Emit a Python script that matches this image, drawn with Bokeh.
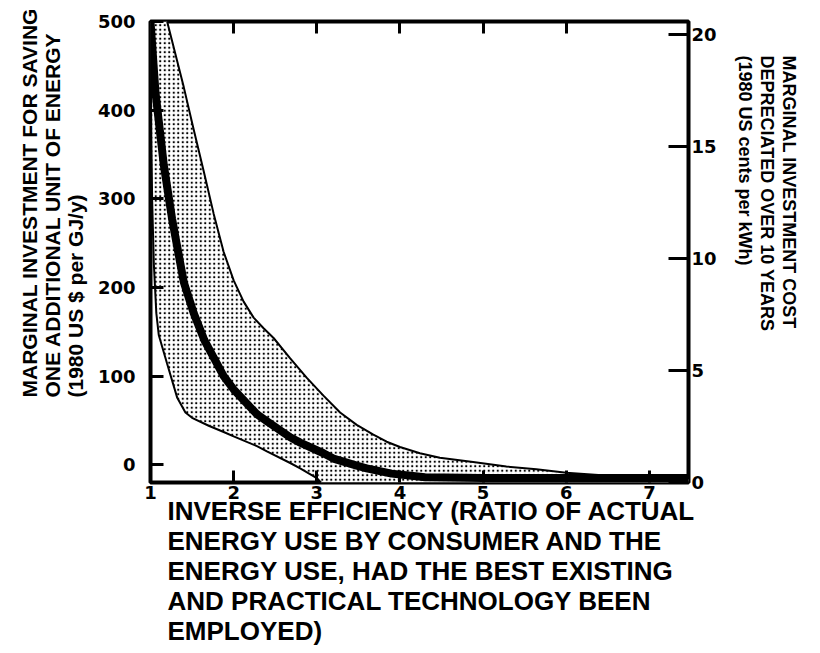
from bokeh.plotting import figure
from bokeh.models import Range1d, LinearAxis, FixedTicker, Title
from bokeh.embed import file_html
from bokeh.resources import INLINE

# ---------------- data ----------------
x_ticks = [1, 2, 3, 4, 5, 6, 7]
top_ticks = [2, 3, 4, 5, 6]
y_ticks_left = [0, 100, 200, 300, 400, 500]
y_ticks_right = [0, 5, 10, 15, 20]

# upper bound of the band
upper_x = [1.20, 1.30, 1.40, 1.52, 1.64, 1.76, 1.88, 2.00, 2.12, 2.24, 2.36, 2.48, 2.68, 2.88,
           3.08, 3.28, 3.48, 3.68, 3.84, 4.00, 4.24, 4.48, 4.88, 5.28, 5.64, 6.00, 6.60, 7.47]
upper_y = [500, 463, 426, 378, 331, 283, 240, 208, 184, 166, 154, 143, 120, 98,
           78, 59, 45, 34, 26, 20, 13, 8, 3, -2, -5, -9, -13, -16]

# central (thick) curve
mid_x = [1.00, 1.06, 1.16, 1.26, 1.40, 1.52, 1.65, 1.88, 2.00, 2.28, 2.40, 2.68, 2.80,
         3.08, 3.20, 3.48, 3.60, 3.90, 4.30, 5.00, 6.00, 7.47]
mid_y = [500, 420, 338, 277, 206, 171, 140, 100, 85, 57, 49, 31, 25,
         13, 7, -1, -4, -10, -14, -15, -15, -15]

# lower bound of the band
lower_x = [1.00, 1.01, 1.02, 1.04, 1.07, 1.10, 1.20, 1.32, 1.42, 1.50, 1.70, 1.88, 2.00,
           2.28, 2.40, 2.68, 2.80, 3.00, 3.05]
lower_y = [500, 369, 298, 227, 171, 146, 114, 76, 59, 53, 44, 37, 32,
           21, 15, 2, -4, -15, -20]

left_title = "MARGINAL INVESTMENT FOR SAVING\nONE ADDITIONAL UNIT OF ENERGY\n(1980 US $ per GJ/y)"
right_title = "MARGINAL INVESTMENT COST\nDEPRECIATED OVER 10 YEARS\n(1980 US cents per kWh)"
bottom_title = ("INVERSE EFFICIENCY (RATIO OF ACTUAL\nENERGY USE BY CONSUMER AND THE\n"
                "ENERGY USE, HAD THE BEST EXISTING\nAND PRACTICAL TECHNOLOGY BEEN\nEMPLOYED)")

# ---------------- figure ----------------
p = figure(width=816, height=649, output_backend="svg", toolbar_location=None,
           x_range=Range1d(1.0, 7.47), y_range=Range1d(-20, 500),
           min_border_left=150, min_border_right=128, min_border_top=21, min_border_bottom=167,
           background_fill_color="white", border_fill_color="white")
p.extra_y_ranges = {"cents": Range1d(0, 20.6)}
p.grid.visible = False
p.outline_line_color = "black"
p.outline_line_width = 4

tick_font = "DejaVu Sans"
title_font = "Liberation Sans"

def style_axis(ax, tick_in, standoff):
    ax.axis_line_color = None
    ax.major_tick_in = tick_in
    ax.major_tick_out = 0
    ax.major_tick_line_width = 3
    ax.major_tick_line_color = "black"
    ax.minor_tick_line_color = None
    ax.major_label_standoff = standoff
    ax.major_label_text_font = tick_font
    ax.major_label_text_font_style = "bold"
    ax.major_label_text_color = "black"
    ax.major_label_text_font_size = "18px"

xa = p.xaxis[0]
xa.ticker = FixedTicker(ticks=x_ticks)
style_axis(xa, 12, 3)

ya = p.yaxis[0]
ya.ticker = FixedTicker(ticks=y_ticks_left)
style_axis(ya, 13, 15)

top = LinearAxis(ticker=FixedTicker(ticks=top_ticks))
style_axis(top, 12, 0)
top.major_label_overrides = {t: "" for t in top_ticks}
p.add_layout(top, "above")

right = LinearAxis(y_range_name="cents", ticker=FixedTicker(ticks=y_ticks_right))
style_axis(right, 20, 3)
p.add_layout(right, "right")

def make_title(text, size, lh, align, offset, standoff, valign="bottom"):
    return Title(text=text, align=align, offset=offset, standoff=standoff,
                 vertical_align=valign,
                 text_font=title_font, text_font_style="bold", text_font_size=size,
                 text_line_height=lh, text_color="black")

p.add_layout(make_title(left_title, "21px", 1.0, "left", 85, 16), "left")
p.add_layout(make_title(right_title, "18px", 1.11, "left", 34, 30), "right")
p.add_layout(make_title(bottom_title, "26px", 1.0, "left", 17, -11, "top"), "below")

# ---------------- band ----------------
band_x = [lower_x[0]] + upper_x + [upper_x[-1]] + lower_x[::-1]
band_y = [upper_y[0]] + upper_y + [lower_y[-1]] + lower_y[::-1]
p.patch(band_x, band_y, fill_color="white", hatch_pattern="dot", hatch_color="black",
        hatch_scale=4.5, hatch_weight=3.5, line_color=None)

p.line(upper_x, upper_y, line_color="black", line_width=2)
p.line(lower_x, lower_y, line_color="black", line_width=2)
p.line(mid_x, mid_y, line_color="black", line_width=8, line_join="round")

open("out.html", "w").write(file_html(p, INLINE))
